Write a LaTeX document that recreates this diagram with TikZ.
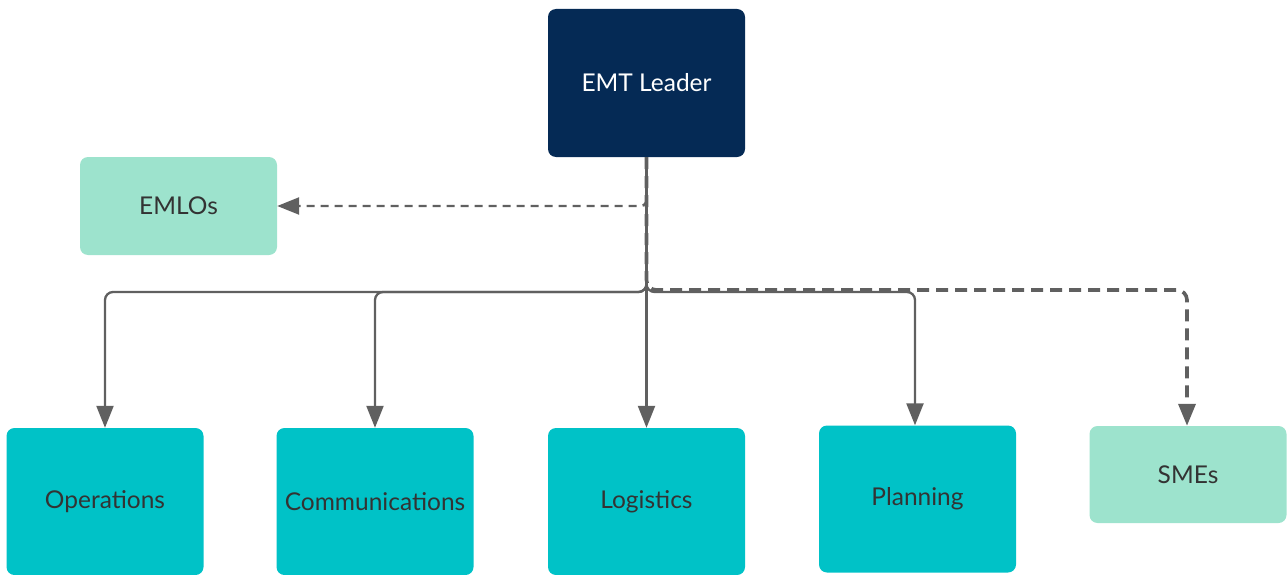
\documentclass[tikz,border=0pt]{standalone}
\usepackage{fontspec}
\setmainfont{Lato}
\usetikzlibrary{arrows.meta}
\definecolor{navy}{HTML}{052A55}
\definecolor{teal}{HTML}{00C2C7}
\definecolor{mint}{HTML}{9DE3CD}
\definecolor{linec}{HTML}{606060}
\definecolor{txt}{HTML}{333333}
\tikzset{
  box/.style={rounded corners=8pt, inner sep=0pt, align=center, text=txt,
    font=\fontsize{24.5}{28}\selectfont},
  leader/.style={box, fill=navy, text=white, minimum width=197pt, minimum height=148pt},
  unit/.style={box, fill=teal, minimum width=197pt, minimum height=147pt},
  liaison/.style={box, fill=mint, minimum width=197pt, minimum height=98pt},
  tip/.style={-{Triangle[length=22pt,width=17pt]}},
  conn/.style={draw=linec, line width=2.3pt, rounded corners=8pt, tip},
  dsh/.style={draw=linec, line width=2.4pt, dash pattern=on 8pt off 6pt, rounded corners=6pt, tip},
  dshthick/.style={draw=linec, line width=3.6pt, dash pattern=on 12pt off 7pt, rounded corners=10pt, tip}
}
\begin{document}
\begin{tikzpicture}[x=1pt,y=-1pt]
\useasboundingbox (0,0) rectangle (1287,575);
\node[leader] (emt) at (646.5,83) {EMT Leader};
\node[liaison] (emlos) at (178.5,206) {EMLOs};
\node[unit] (ops) at (105,501.5) {Operations};
\node[unit] (comm) at (375,501.5) {Communications};
\node[unit] (log) at (646.5,501.5) {Logistics};
\node[unit] (plan) at (917.5,499) {Planning};
\node[liaison, minimum height=97pt] (smes) at (1188,474.5) {SMEs};
\coordinate (bus) at (646.5,292);
\coordinate (busd) at (646.5,290);
\draw[conn] (emt.south) -- (bus) -| (ops.north);
\draw[conn] (emt.south) -- (bus) -| (comm.north);
\draw[conn] (emt.south) -- (log.north);
\draw[conn] (emt.south) -- (bus) -| ([xshift=-2.5pt]plan.north);
\draw[dsh] (emt.south) |- (emlos.east);
\draw[dshthick] (emt.south) -- (busd) -| ([xshift=-1pt]smes.north);
\end{tikzpicture}
\end{document}
